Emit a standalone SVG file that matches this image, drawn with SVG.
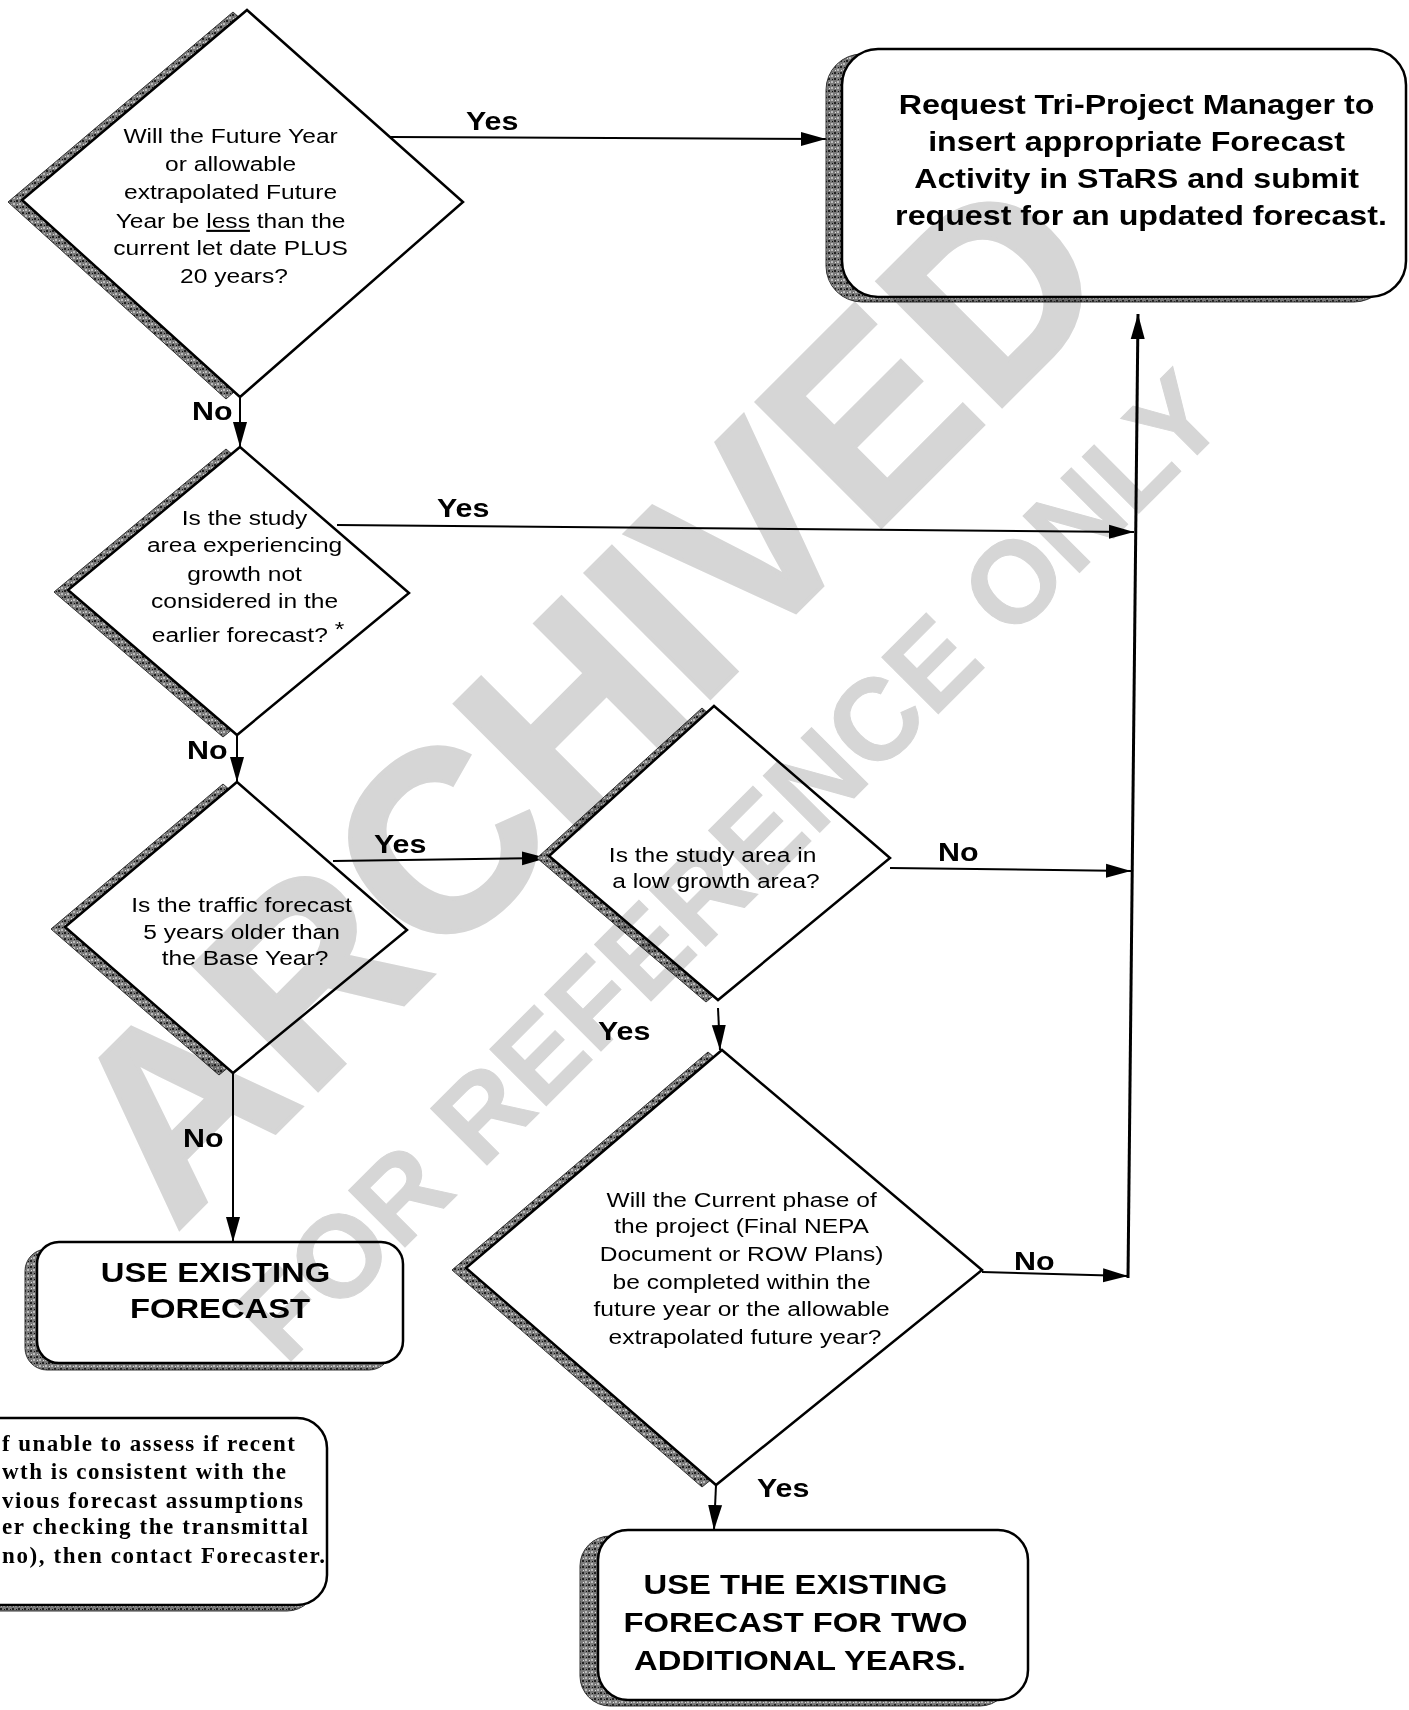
<svg xmlns="http://www.w3.org/2000/svg" width="1409" height="1710" viewBox="0 0 1409 1710">
<defs>
<style>
.t{font-family:"Liberation Sans",Arial,sans-serif;font-size:21px;fill:#000}
.bt{font-family:"Liberation Sans",Arial,sans-serif;font-weight:bold;fill:#000}
.lbl{font-family:"Liberation Sans",Arial,sans-serif;font-weight:bold;font-size:26px;fill:#000}
.fn{font-family:"Liberation Serif","Times New Roman",serif;font-weight:bold;font-size:23px;fill:#000}
.shape{fill:#fff;stroke:#000;stroke-width:2.5}
.shadow{fill:url(#speck);stroke:#333;stroke-width:1}
.conn{stroke:#000;stroke-width:2;fill:none}
</style>
<pattern id="speck" width="6" height="6" patternUnits="userSpaceOnUse">
<rect width="6" height="6" fill="#7a7a7a"/>
<rect x="0" y="0" width="2" height="2" fill="#222"/>
<rect x="3" y="3" width="2" height="2" fill="#bbb"/>
<rect x="4" y="1" width="1" height="1" fill="#111"/>
<rect x="1" y="4" width="1" height="1" fill="#ddd"/>
</pattern>
<marker id="ah" markerWidth="26" markerHeight="16" refX="25" refY="8" orient="auto" markerUnits="userSpaceOnUse">
<path d="M0,1 L25,8 L0,15 z" fill="#000"/>
</marker>
</defs>
<rect width="1409" height="1710" fill="#fff"/>

<g id="connectors">
<line class="conn" x1="390" y1="137" x2="826" y2="139" marker-end="url(#ah)"/>
<line class="conn" x1="240" y1="397" x2="240" y2="447" marker-end="url(#ah)"/>
<line class="conn" x1="337" y1="525" x2="1134" y2="532" marker-end="url(#ah)"/>
<line class="conn" x1="237" y1="735" x2="237" y2="782" marker-end="url(#ah)"/>
<line class="conn" x1="333" y1="861" x2="547" y2="858" marker-end="url(#ah)"/>
<line class="conn" x1="233" y1="1073" x2="233" y2="1242" marker-end="url(#ah)"/>
<line class="conn" x1="890" y1="868" x2="1131" y2="871" marker-end="url(#ah)"/>
<line class="conn" x1="718" y1="1008" x2="720" y2="1050" marker-end="url(#ah)"/>
<line class="conn" x1="982" y1="1272" x2="1128" y2="1276" marker-end="url(#ah)"/>
<line class="conn" x1="716" y1="1485" x2="714" y2="1530" marker-end="url(#ah)"/>
<line class="conn" style="stroke-width:3" x1="1128" y1="1278" x2="1138" y2="314" marker-end="url(#ah)"/>
<text class="lbl" transform="translate(466,130) scale(1.17,1)">Yes</text>
<text class="lbl" transform="translate(192,420) scale(1.17,1)">No</text>
<text class="lbl" transform="translate(437,517) scale(1.17,1)">Yes</text>
<text class="lbl" transform="translate(187,759) scale(1.17,1)">No</text>
<text class="lbl" transform="translate(374,853) scale(1.17,1)">Yes</text>
<text class="lbl" transform="translate(938,861) scale(1.17,1)">No</text>
<text class="lbl" transform="translate(183,1147) scale(1.17,1)">No</text>
<text class="lbl" transform="translate(598,1040) scale(1.17,1)">Yes</text>
<text class="lbl" transform="translate(1014,1270) scale(1.17,1)">No</text>
<text class="lbl" transform="translate(757,1497) scale(1.17,1)">Yes</text>
</g>

<g id="d1">
<polygon class="shadow" transform="translate(-14,2)" points="247,10 463,202 240,397 22,200"/>
<polygon class="shape" points="247,10 463,202 240,397 22,200"/>
<text class="t" text-anchor="middle" transform="translate(234,0) scale(1.17,1)">
<tspan x="0" y="143">Will the Future Year</tspan>
<tspan x="0" y="171">or allowable</tspan>
<tspan x="0" y="199">extrapolated Future</tspan>
<tspan x="0" y="228">Year be <tspan text-decoration="underline">less</tspan> than the</tspan>
<tspan x="0" y="255">current let date PLUS</tspan>
<tspan x="0" y="283">20 years?</tspan>
</text>
</g>

<g id="box1">
<rect class="shadow" x="826" y="54" width="564" height="248" rx="36"/>
<rect class="shape" x="842" y="49" width="564" height="248" rx="36"/>
<text class="bt" font-size="28" text-anchor="middle" transform="translate(1141,0) scale(1.15,1)">
<tspan x="0" y="114">Request Tri-Project Manager to</tspan>
<tspan x="0" y="151">insert appropriate Forecast</tspan>
<tspan x="0" y="188">Activity in STaRS and submit</tspan>
<tspan x="0" y="225">request for an updated forecast.</tspan>
</text>
</g>

<g id="d2">
<polygon class="shadow" transform="translate(-14,2)" points="240,447 409,593 237,735 68,590"/>
<polygon class="shape" points="240,447 409,593 237,735 68,590"/>
<text class="t" text-anchor="middle" transform="translate(248,0) scale(1.17,1)">
<tspan x="0" y="525">Is the study</tspan>
<tspan x="0" y="552">area experiencing</tspan>
<tspan x="0" y="581">growth not</tspan>
<tspan x="0" y="608">considered in the</tspan>
<tspan x="0" y="642">earlier forecast? <tspan dy="-6">*</tspan></tspan>
</text>
</g>

<g id="d3">
<polygon class="shadow" transform="translate(-14,2)" points="237,782 407,930 233,1073 65,927"/>
<polygon class="shape" points="237,782 407,930 233,1073 65,927"/>
<text class="t" text-anchor="middle" transform="translate(245,0) scale(1.17,1)">
<tspan x="0" y="912">Is the traffic forecast</tspan>
<tspan x="0" y="939">5 years older than</tspan>
<tspan x="0" y="965">the Base Year?</tspan>
</text>
</g>

<g id="d4">
<polygon class="shadow" transform="translate(-12,2)" points="714,706 890,858 718,1000 549,856"/>
<polygon class="shape" points="714,706 890,858 718,1000 549,856"/>
<text class="t" text-anchor="middle" transform="translate(716,0) scale(1.17,1)">
<tspan x="0" y="862">Is the study area in</tspan>
<tspan x="0" y="888">a low growth area?</tspan>
</text>
</g>

<g id="d5">
<polygon class="shadow" transform="translate(-14,2)" points="722,1050 982,1270 716,1485 466,1268"/>
<polygon class="shape" points="722,1050 982,1270 716,1485 466,1268"/>
<text class="t" text-anchor="middle" transform="translate(745,0) scale(1.17,1)">
<tspan x="0" y="1207">Will the Current phase of</tspan>
<tspan x="0" y="1233">the project (Final NEPA</tspan>
<tspan x="0" y="1261">Document or ROW Plans)</tspan>
<tspan x="0" y="1289">be completed within the</tspan>
<tspan x="0" y="1316">future year or the allowable</tspan>
<tspan x="0" y="1344">extrapolated future year?</tspan>
</text>
</g>

<g id="box2">
<rect class="shadow" x="25" y="1249" width="366" height="121" rx="22"/>
<rect class="shape" x="37" y="1242" width="366" height="121" rx="22"/>
<text class="bt" font-size="28" text-anchor="middle" transform="translate(220,0) scale(1.17,1)">
<tspan x="0" y="1282">USE EXISTING</tspan>
<tspan x="0" y="1318">FORECAST</tspan>
</text>
</g>

<g id="note">
<rect class="shadow" x="-210" y="1424" width="527" height="187" rx="30"/>
<rect class="shape" x="-200" y="1418" width="527" height="187" rx="30"/>
<text class="fn">
<tspan x="2" y="1451" textLength="293" lengthAdjust="spacing">f unable to assess if recent</tspan>
<tspan x="2" y="1479" textLength="284" lengthAdjust="spacing">wth is consistent with the</tspan>
<tspan x="2" y="1508" textLength="301" lengthAdjust="spacing">vious forecast assumptions</tspan>
<tspan x="2" y="1534" textLength="306" lengthAdjust="spacing">er checking the transmittal</tspan>
<tspan x="2" y="1563" textLength="323" lengthAdjust="spacing">no), then contact Forecaster.</tspan>
</text>
</g>

<g id="box3">
<rect class="shadow" x="580" y="1536" width="430" height="170" rx="30"/>
<rect class="shape" x="598" y="1530" width="430" height="170" rx="30"/>
<text class="bt" font-size="28" text-anchor="middle" transform="translate(800,0) scale(1.17,1)">
<tspan x="0" y="1594">USE THE EXISTING</tspan>
<tspan x="0" y="1632">FORECAST FOR TWO</tspan>
<tspan x="0" y="1670">ADDITIONAL YEARS.</tspan>
</text>
</g>

<g id="watermark" style="mix-blend-mode:multiply" fill="#d6d6d6" stroke="#d6d6d6" font-family="Liberation Sans, Arial, sans-serif" font-weight="bold">
<text transform="translate(648,760) rotate(-45)" text-anchor="middle" font-size="256" stroke-width="4">ARCHIVED</text>
<text transform="translate(758,894) rotate(-45)" text-anchor="middle" font-size="116" stroke-width="1">FOR REFERENCE ONLY</text>
</g>
</svg>
